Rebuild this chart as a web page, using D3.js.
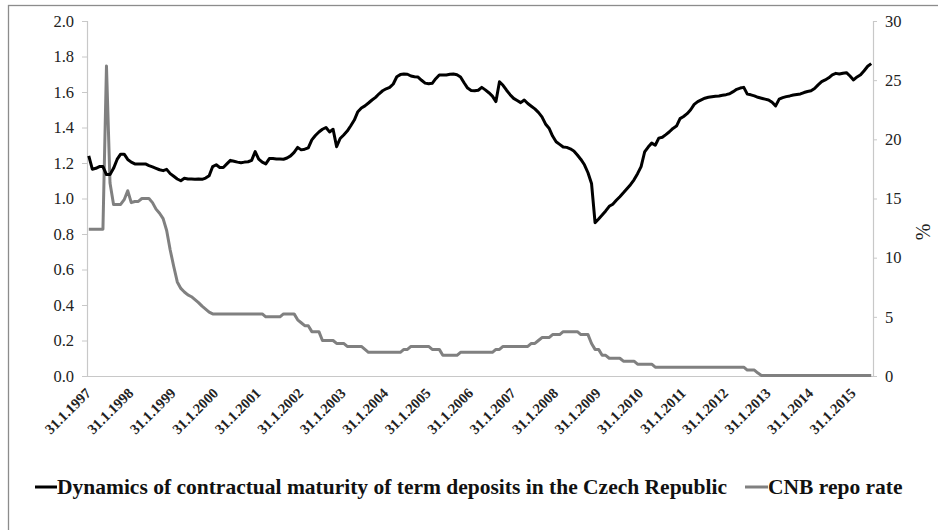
<!DOCTYPE html>
<html>
<head>
<meta charset="utf-8">
<script src="https://cdn.jsdelivr.net/npm/d3@7"></script>
<style>
  body { margin: 0; background: #fff; }
  svg text { font-family: "Liberation Serif", "Times New Roman", serif; }
</style>
</head>
<body>
<div id="chart"></div>
<script>
// x-axis year labels (one every 12 monthly points, first point = Jan 1997)
const yearLabels = ["31.1.1997","31.1.1998","31.1.1999","31.1.2000","31.1.2001","31.1.2002",
  "31.1.2003","31.1.2004","31.1.2005","31.1.2006","31.1.2007","31.1.2008","31.1.2009",
  "31.1.2010","31.1.2011","31.1.2012","31.1.2013","31.1.2014","31.1.2015"];

const leftTicks = [0, 0.2, 0.4, 0.6, 0.8, 1.0, 1.2, 1.4, 1.6, 1.8, 2.0];
const rightTicks = [0, 5, 10, 15, 20, 25, 30];

// monthly values, Jan 1997 - Jun 2015
const maturity = [
  1.24,1.165,1.17,1.18,1.18,1.135,1.135,1.17,1.22,1.25,1.25,1.22,
  1.205,1.195,1.195,1.195,1.195,1.185,1.178,1.17,1.162,1.157,1.164,1.14,
  1.125,1.11,1.10,1.114,1.11,1.11,1.108,1.11,1.108,1.115,1.128,1.18,
  1.19,1.175,1.175,1.195,1.215,1.21,1.205,1.202,1.205,1.207,1.215,1.264,
  1.222,1.205,1.195,1.225,1.225,1.222,1.222,1.221,1.228,1.24,1.26,1.288,
  1.274,1.278,1.285,1.33,1.355,1.375,1.39,1.40,1.375,1.39,1.292,1.338,
  1.358,1.38,1.41,1.442,1.489,1.51,1.522,1.538,1.555,1.57,1.59,1.607,
  1.618,1.626,1.645,1.686,1.698,1.701,1.70,1.69,1.686,1.684,1.666,1.65,
  1.646,1.649,1.675,1.696,1.696,1.696,1.70,1.701,1.697,1.685,1.652,1.622,
  1.609,1.607,1.61,1.626,1.612,1.596,1.577,1.546,1.658,1.638,1.61,1.585,
  1.564,1.552,1.54,1.555,1.535,1.52,1.505,1.485,1.46,1.42,1.396,1.352,
  1.32,1.305,1.29,1.288,1.28,1.268,1.245,1.22,1.19,1.145,1.085,0.864,
  0.885,0.907,0.93,0.956,0.968,0.99,1.01,1.032,1.055,1.078,1.105,1.14,
  1.18,1.262,1.29,1.312,1.30,1.34,1.345,1.36,1.376,1.395,1.408,1.45,
  1.462,1.478,1.50,1.53,1.546,1.556,1.565,1.57,1.573,1.576,1.578,1.582,
  1.585,1.59,1.602,1.615,1.622,1.626,1.588,1.584,1.578,1.57,1.565,1.56,
  1.555,1.542,1.522,1.56,1.568,1.574,1.578,1.583,1.586,1.589,1.597,1.603,
  1.607,1.62,1.64,1.658,1.668,1.68,1.697,1.705,1.701,1.706,1.709,1.69,
  1.668,1.685,1.697,1.72,1.745,1.76
];

const repoRate = [
  12.4,12.4,12.4,12.4,12.4,26.2,16.3,14.5,14.5,14.5,14.9,15.66,
  14.65,14.75,14.75,15,15,15,14.65,14.1,13.75,13.3,12.3,10.65,
  9.25,7.95,7.4,7.1,6.85,6.7,6.45,6.2,5.9,5.65,5.4,5.25,
  5.25,5.25,5.25,5.25,5.25,5.25,5.25,5.25,5.25,5.25,5.25,5.25,
  5.25,5.25,5.0,5.0,5.0,5.0,5.0,5.25,5.25,5.25,5.25,4.75,
  4.5,4.25,4.25,3.75,3.75,3.75,3.0,3.0,3.0,3.0,2.75,2.75,
  2.75,2.5,2.5,2.5,2.5,2.5,2.25,2.0,2.0,2.0,2.0,2.0,
  2.0,2.0,2.0,2.0,2.0,2.25,2.25,2.5,2.5,2.5,2.5,2.5,
  2.5,2.25,2.25,2.25,1.75,1.75,1.75,1.75,1.75,2.0,2.0,2.0,
  2.0,2.0,2.0,2.0,2.0,2.0,2.0,2.25,2.25,2.5,2.5,2.5,
  2.5,2.5,2.5,2.5,2.5,2.75,2.75,3.0,3.25,3.25,3.25,3.5,
  3.5,3.5,3.75,3.75,3.75,3.75,3.75,3.5,3.5,3.5,2.75,2.25,
  2.25,1.75,1.75,1.5,1.5,1.5,1.5,1.25,1.25,1.25,1.25,1.0,
  1.0,1.0,1.0,1.0,0.75,0.75,0.75,0.75,0.75,0.75,0.75,0.75,
  0.75,0.75,0.75,0.75,0.75,0.75,0.75,0.75,0.75,0.75,0.75,0.75,
  0.75,0.75,0.75,0.75,0.75,0.75,0.5,0.5,0.5,0.25,0.05,0.05,
  0.05,0.05,0.05,0.05,0.05,0.05,0.05,0.05,0.05,0.05,0.05,0.05,
  0.05,0.05,0.05,0.05,0.05,0.05,0.05,0.05,0.05,0.05,0.05,0.05,
  0.05,0.05,0.05,0.05,0.05,0.05
];

const seriesNames = ["Dynamics of contractual maturity of term deposits in the Czech Republic", "CNB repo rate"];

const width = 938, height = 530;
const svg = d3.select("#chart").append("svg")
    .attr("width", width)
    .attr("height", height);

// outer frame (runs off the right and bottom edge)
svg.append("rect")
    .attr("x", 8.5).attr("y", 5.5)
    .attr("width", 960).attr("height", 560)
    .attr("fill", "none")
    .attr("stroke", "#8c8c8c")
    .attr("stroke-width", 1.3);

const plotLeft = 87, plotRight = 873, plotTop = 21, plotBottom = 376;

const x = d3.scaleBand()
    .domain(d3.range(maturity.length))
    .range([plotLeft, plotRight]);
const cx = i => x(i) + x.bandwidth() / 2;

const yLeft = d3.scaleLinear().domain([0, 2]).range([plotBottom, plotTop]);
const yRight = d3.scaleLinear().domain([0, 30]).range([plotBottom, plotTop]);

// left axis
const gLeft = svg.append("g")
    .attr("transform", `translate(${plotLeft},0)`)
    .call(d3.axisLeft(yLeft).tickValues(leftTicks).tickFormat(d3.format(".1f")).tickSize(5).tickPadding(8));

// right axis
const gRight = svg.append("g")
    .attr("transform", `translate(${plotRight},0)`)
    .call(d3.axisRight(yRight).tickValues(rightTicks).tickSize(4).tickPadding(8));

[gLeft, gRight].forEach(g => {
    g.select(".domain").attr("stroke", "#c8c8c8").attr("stroke-width", 1.2);
    g.selectAll(".tick line").attr("stroke", "#c8c8c8");
    g.selectAll(".tick text")
        .attr("fill", "#222")
        .style("font-size", "16.5px")
        .style("font-family", "'Liberation Serif', serif");
});

// bottom axis line
svg.append("line")
    .attr("x1", plotLeft).attr("x2", plotRight)
    .attr("y1", plotBottom + 0.5).attr("y2", plotBottom + 0.5)
    .attr("stroke", "#c8c8c8").attr("stroke-width", 1.2);

// x labels
svg.append("g").selectAll("text")
    .data(yearLabels)
    .join("text")
    .attr("transform", (d, k) => `translate(${cx(k * 12) + 3},${plotBottom + 18}) rotate(-45)`)
    .attr("text-anchor", "end")
    .attr("font-size", "14.5px")
    .attr("font-weight", "bold")
    .attr("fill", "#222")
    .text(d => d);

// % axis title
svg.append("text")
    .attr("transform", "translate(930,232) rotate(-90)")
    .attr("text-anchor", "middle")
    .attr("font-size", "20px")
    .attr("fill", "#222")
    .text("%");

// lines
const lineLeft = d3.line().x((d, i) => cx(i)).y(d => yLeft(d));
const lineRight = d3.line().x((d, i) => cx(i)).y(d => yRight(d));

svg.append("path")
    .datum(repoRate)
    .attr("d", lineRight)
    .attr("fill", "none")
    .attr("stroke", "#808080")
    .attr("stroke-width", 3)
    .attr("stroke-linejoin", "round");

svg.append("path")
    .datum(maturity)
    .attr("d", lineLeft)
    .attr("fill", "none")
    .attr("stroke", "#000")
    .attr("stroke-width", 3)
    .attr("stroke-linejoin", "round");

// legend
const legendY = 487;
const legend = svg.append("g");
legend.append("line")
    .attr("x1", 35).attr("x2", 57).attr("y1", legendY).attr("y2", legendY)
    .attr("stroke", "#000").attr("stroke-width", 3);
legend.append("text")
    .attr("x", 57).attr("y", legendY + 7)
    .attr("font-size", "21.5px").attr("font-weight", "bold").attr("fill", "#111")
    .text(seriesNames[0]);
legend.append("line")
    .attr("x1", 745).attr("x2", 768).attr("y1", legendY).attr("y2", legendY)
    .attr("stroke", "#808080").attr("stroke-width", 3);
legend.append("text")
    .attr("x", 768).attr("y", legendY + 7)
    .attr("font-size", "21.5px").attr("font-weight", "bold").attr("fill", "#111")
    .text(seriesNames[1]);
</script>
</body>
</html>
